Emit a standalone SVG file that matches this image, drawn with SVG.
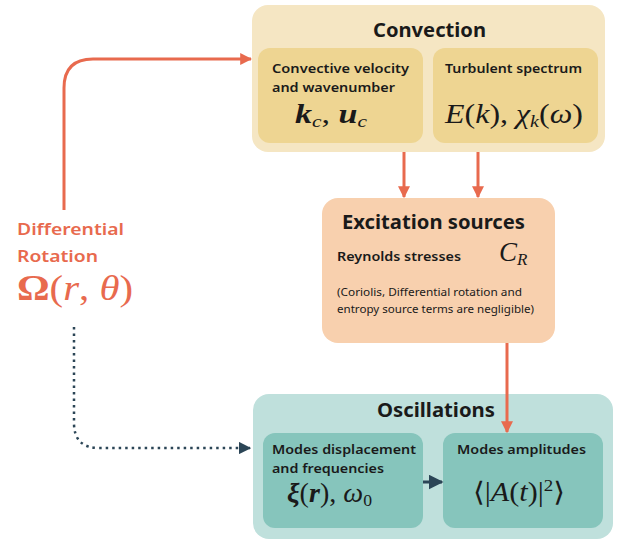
<svg xmlns="http://www.w3.org/2000/svg" width="619" height="540" viewBox="0 0 619 540">
<style>
.lbl{font-family:"Noto Sans",Lato,sans-serif;font-weight:600;fill:#1a1a1a}
.title{font-size:19px;font-weight:700}
.sub{font-size:13px}
.note{font-family:"Noto Sans",Lato,sans-serif;font-size:10px;fill:#1a1a1a}
.math{font-family:"Liberation Serif","DejaVu Serif",serif;font-style:italic;fill:#1a1a1a}
</style>
<defs>
<marker id="ao" viewBox="0 0 10 10" refX="9" refY="5" markerWidth="4" markerHeight="4" orient="auto" markerUnits="strokeWidth"><path d="M0,0 L10,5 L0,10 z" fill="#e86a4e"/></marker>
<marker id="ad" viewBox="0 0 10 10" refX="9" refY="5" markerWidth="5" markerHeight="5" orient="auto" markerUnits="strokeWidth"><path d="M0,0 L10,5 L0,10 z" fill="#2b4556"/></marker>
</defs>
<g id="convection">
<rect x="252" y="5" width="353" height="147" rx="16" fill="#f5e6c3"/>
<text class="lbl title" x="373" y="37" textLength="113" lengthAdjust="spacingAndGlyphs">Convection</text>
<g id="conv-velocity">
<rect x="258" y="48" width="165" height="95" rx="12" fill="#eed592"/>
<text class="lbl sub" x="272" y="73" textLength="137" lengthAdjust="spacingAndGlyphs">Convective velocity</text>
<text class="lbl sub" x="272" y="92" textLength="123" lengthAdjust="spacingAndGlyphs">and wavenumber</text>
<text class="math" x="295" y="123" font-size="27" textLength="72" lengthAdjust="spacingAndGlyphs"><tspan font-weight="700">k</tspan><tspan font-size="17" dy="4">c</tspan><tspan dy="-4" font-style="normal">, </tspan><tspan font-weight="700">u</tspan><tspan font-size="17" dy="4">c</tspan></text>
</g>
<g id="turb-spectrum">
<rect x="433" y="48" width="165" height="95" rx="12" fill="#eed592"/>
<text class="lbl sub" x="445" y="73" textLength="137" lengthAdjust="spacingAndGlyphs">Turbulent spectrum</text>
<text class="math" x="445" y="123" font-size="27" textLength="138" lengthAdjust="spacingAndGlyphs">E<tspan font-style="normal">(</tspan>k<tspan font-style="normal">), </tspan>χ<tspan font-size="17" dy="4">k</tspan><tspan dy="-4" font-style="normal">(</tspan>ω<tspan font-style="normal">)</tspan></text>
</g>
</g>
<g id="excitation">
<rect x="322" y="198" width="233" height="145" rx="16" fill="#f8d0ae"/>
<text class="lbl title" x="342" y="229" font-size="20" textLength="183" lengthAdjust="spacingAndGlyphs">Excitation sources</text>
<text class="lbl sub" x="337" y="261" textLength="124" lengthAdjust="spacingAndGlyphs">Reynolds stresses</text>
<text class="math" x="499" y="261" font-size="27">C<tspan font-size="17" dy="4">R</tspan></text>
<text class="note" x="337" y="296" textLength="185" lengthAdjust="spacingAndGlyphs">(Coriolis, Differential rotation and</text>
<text class="note" x="337" y="313" textLength="197" lengthAdjust="spacingAndGlyphs">entropy source terms are negligible)</text>
</g>
<g id="oscillations">
<rect x="253" y="394" width="360" height="145" rx="16" fill="#bfe0dc"/>
<text class="lbl title" x="377" y="417" textLength="118" lengthAdjust="spacingAndGlyphs">Oscillations</text>
<g id="modes-disp">
<rect x="263" y="433" width="160" height="95" rx="12" fill="#86c5bc"/>
<text class="lbl sub" x="272" y="454" textLength="144" lengthAdjust="spacingAndGlyphs">Modes displacement</text>
<text class="lbl sub" x="272" y="473" textLength="112" lengthAdjust="spacingAndGlyphs">and frequencies</text>
<text class="math" x="287" y="502" font-size="27" textLength="85" lengthAdjust="spacingAndGlyphs"><tspan font-weight="700">ξ</tspan><tspan font-style="normal">(</tspan><tspan font-weight="700">r</tspan><tspan font-style="normal">), </tspan>ω<tspan font-size="17" dy="4" font-style="normal">0</tspan></text>
</g>
<g id="modes-amp">
<rect x="443" y="433" width="160" height="95" rx="12" fill="#86c5bc"/>
<text class="lbl sub" x="457" y="454" textLength="129" lengthAdjust="spacingAndGlyphs">Modes amplitudes</text>
<text class="math" x="473" y="501" font-size="27" textLength="92" lengthAdjust="spacingAndGlyphs"><tspan font-style="normal">⟨|</tspan>A<tspan font-style="normal">(</tspan>t<tspan font-style="normal">)|</tspan><tspan font-size="17" dy="-10" font-style="normal">2</tspan><tspan dy="10" font-style="normal">⟩</tspan></text>
</g>
</g>
<g id="diff-rotation">
<text class="lbl" x="17" y="235" font-size="16" font-weight="700" style="fill:#e86a4e" textLength="107" lengthAdjust="spacingAndGlyphs">Differential</text>
<text class="lbl" x="17" y="262" font-size="16" font-weight="700" style="fill:#e86a4e" textLength="81" lengthAdjust="spacingAndGlyphs">Rotation</text>
<text class="math" x="17" y="300" font-size="36" style="fill:#e86a4e" textLength="116" lengthAdjust="spacingAndGlyphs"><tspan font-style="normal" font-weight="700">Ω</tspan><tspan font-style="normal">(</tspan>r<tspan font-style="normal">, </tspan>θ<tspan font-style="normal">)</tspan></text>
</g>
<g id="connectors" fill="none">
<path d="M64,210 V88 Q64,59 93,59 H251" stroke="#e86a4e" stroke-width="3" marker-end="url(#ao)"/>
<path d="M404,152 V197" stroke="#e86a4e" stroke-width="3" marker-end="url(#ao)"/>
<path d="M478,152 V197" stroke="#e86a4e" stroke-width="3" marker-end="url(#ao)"/>
<path d="M507,343 V432" stroke="#e86a4e" stroke-width="3" marker-end="url(#ao)"/>
<path d="M74,327 V423 Q74,448 99,448 H250" stroke="#2b4556" stroke-width="2.5" stroke-dasharray="2.5 4" marker-end="url(#ad)"/>
<path d="M423,482 H442" stroke="#2b4556" stroke-width="3" marker-end="url(#ad)"/>
</g>
</svg>
